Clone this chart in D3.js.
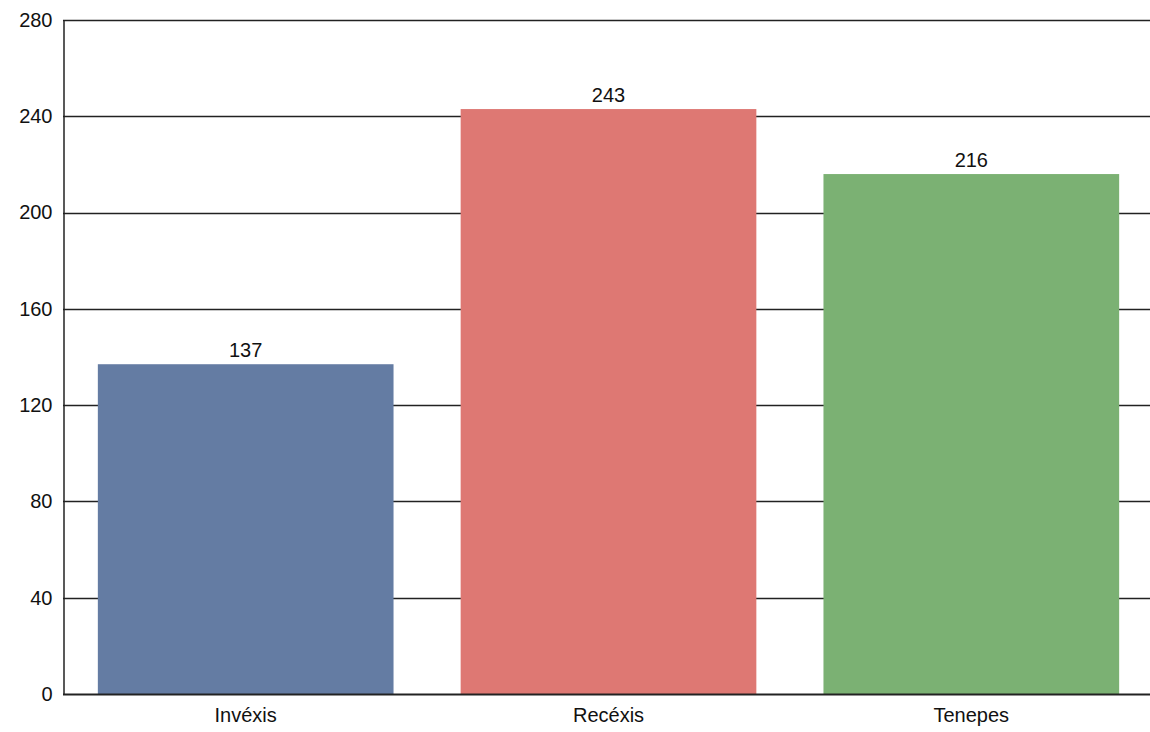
<!DOCTYPE html>
<html><head><meta charset="utf-8">
<script src="https://cdn.jsdelivr.net/npm/d3@7"></script>
<style>body{margin:0;background:#fff}svg{display:block}text{font-family:"Liberation Sans",Arial,sans-serif}</style>
</head><body>
<svg id="c" width="1150" height="732"></svg>
<script>
const categories = ["Invéxis", "Recéxis", "Tenepes"];
const values = [137, 243, 216];
const colors = ["#647ca3", "#de7873", "#7bb173"];
const yTicks = [0, 40, 80, 120, 160, 200, 240, 280];

(function () {
const svg = d3.select("#c");
const FONT = '"Liberation Sans",Arial,sans-serif';
const FS = 20;
const mLeft = 63, mRight = 1150, mTop = 20, mBottom = 694;
const x = d3.scaleBand().domain(categories).range([mLeft + 4, mRight]).paddingInner(0.185).paddingOuter(0.085);
const y = d3.scaleLinear().domain([0, 280]).range([mBottom, mTop]);

// gridlines
svg.append("g").selectAll("line").data(yTicks.filter(d => d > 0)).join("line")
  .attr("x1", mLeft).attr("x2", mRight)
  .attr("y1", d => Math.round(y(d)) + 0.5).attr("y2", d => Math.round(y(d)) + 0.5)
  .attr("stroke", "#222").attr("stroke-width", 1.5);

// bars
svg.append("g").selectAll("rect").data(values).join("rect")
  .attr("x", (d, i) => x(categories[i]))
  .attr("width", x.bandwidth())
  .attr("y", d => y(d))
  .attr("height", d => mBottom - y(d))
  .attr("fill", (d, i) => colors[i]);

// value labels
svg.append("g").selectAll("text").data(values).join("text")
  .attr("x", (d, i) => x(categories[i]) + x.bandwidth() / 2)
  .attr("y", d => y(d) - 7)
  .attr("text-anchor", "middle")
  .attr("font-size", FS).attr("fill", "#111").attr("font-family", FONT)
  .text(d => d);

// y axis
const yAxis = d3.axisLeft(y).tickValues(yTicks).tickSize(0).tickSizeOuter(0).tickPadding(11);
const ga = svg.append("g").attr("transform", `translate(${mLeft + 0.5},0)`).call(yAxis);
ga.select(".domain").attr("stroke", "#222").attr("stroke-width", 1.5);
ga.selectAll("text").attr("font-size", FS).attr("fill", "#111").attr("font-family", FONT);

// x axis
const xAxis = d3.axisBottom(x).tickSize(0).tickSizeOuter(0).tickPadding(13);
const gx = svg.append("g").attr("transform", `translate(0,${mBottom + 0.5})`).call(xAxis);
gx.select(".domain").remove();
gx.selectAll("text").attr("font-size", FS).attr("fill", "#111").attr("font-family", FONT);

// baseline
svg.append("line").attr("x1", mLeft).attr("x2", mRight)
  .attr("y1", mBottom + 0.5).attr("y2", mBottom + 0.5)
  .attr("stroke", "#222").attr("stroke-width", 2);
})();
</script>
</body></html>
